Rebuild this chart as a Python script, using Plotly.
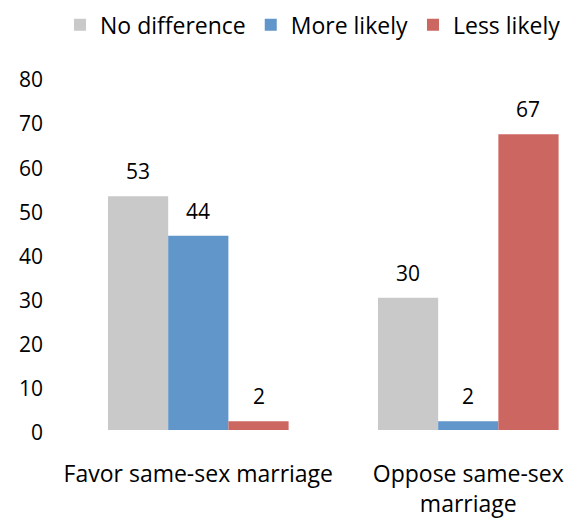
import plotly.graph_objects as go

# Survey responses by stance on same-sex marriage (percent)
categories = ["Favor same-sex marriage", "Oppose same-sex<br>marriage"]
series_names = ["No difference", "More likely", "Less likely"]
no_difference = [53, 30]
more_likely = [44, 2]
less_likely = [2, 67]
y_ticks = [0, 10, 20, 30, 40, 50, 60, 70, 80]

colors = ["#C9C9C9", "#6096C9", "#CC6660"]
font_family = "'Open Sans', Lato, sans-serif"
num_size = 21   # tick numbers and value labels
text_size = 23  # legend and category labels
bargap = 0.331

x_pos = list(range(len(categories)))
series_values = [no_difference, more_likely, less_likely]

fig = go.Figure()
for name, vals, col in zip(series_names, series_values, colors):
    fig.add_trace(go.Bar(
        x=x_pos, y=vals, name=name,
        marker=dict(color=col, line=dict(width=0)),
    ))

# Value labels above each bar
bar_w = (1 - bargap) / len(series_names)
for i, vals in enumerate(series_values):
    off = (i - (len(series_names) - 1) / 2) * bar_w
    for xi, v in zip(x_pos, vals):
        fig.add_annotation(
            x=xi + off, y=v, text=str(v), showarrow=False,
            yanchor="middle", yshift=25,
            font=dict(family=font_family, size=num_size, color="#000000"),
        )

fig.update_layout(
    width=566, height=519,
    margin=dict(l=44, r=0, t=77, b=87),
    paper_bgcolor="white", plot_bgcolor="white",
    barmode="group", bargap=bargap, bargroupgap=0,
    font=dict(family=font_family, size=num_size, color="#000000"),
    showlegend=True,
    legend=dict(
        orientation="h", xanchor="right", x=1.0,
        yanchor="middle", y=1.148,
        font=dict(family=font_family, size=text_size, color="#000000"),
        bgcolor="rgba(0,0,0,0)",
    ),
    xaxis=dict(
        range=[-0.5715, 1.362],
        tickvals=x_pos, ticktext=categories,
        tickfont=dict(family=font_family, size=text_size, color="#000000"),
        showgrid=False, zeroline=False, showline=False,
        ticks="", ticklabelstandoff=28,
    ),
    yaxis=dict(
        range=[0, 80], tickvals=y_ticks,
        showgrid=False, zeroline=False, showline=False,
        ticks="", ticklabelshift=3,
    ),
)

fig.write_html("out.html")
